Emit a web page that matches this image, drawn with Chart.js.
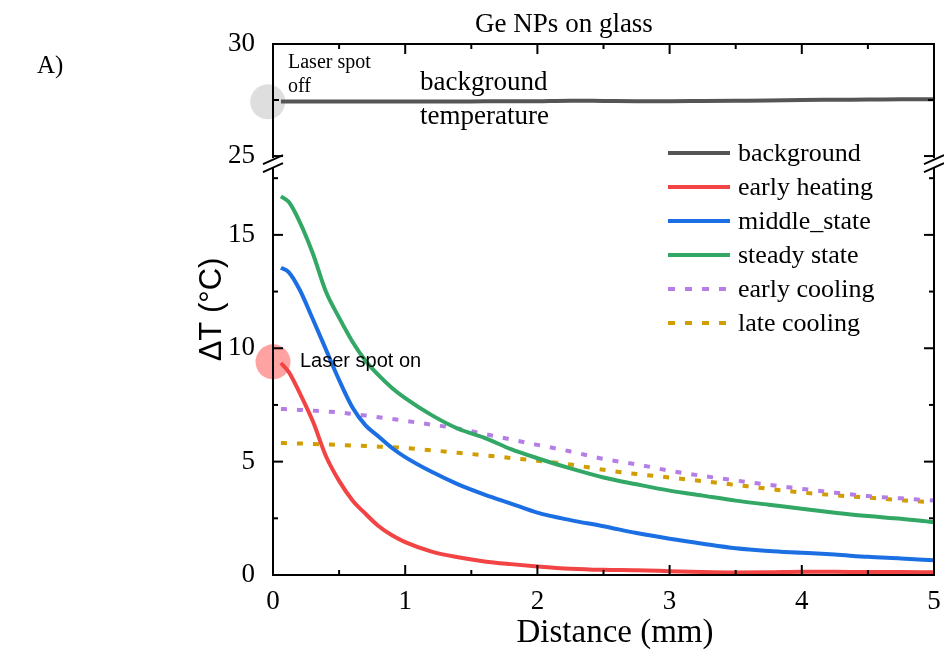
<!DOCTYPE html>
<html>
<head>
<meta charset="utf-8">
<title>Ge NPs on glass</title>
<script src="https://cdn.jsdelivr.net/npm/chart.js@4.4.1/dist/chart.umd.min.js"></script>
<style>
  html, body { margin: 0; padding: 0; background: #fff; }
  #wrap { width: 944px; height: 650px; }
</style>
</head>
<body>
<div id="wrap"><canvas id="temp-chart" width="944" height="650"></canvas></div>
<script>
// Distance from the laser spot (mm)
const distance = [0.06, 0.12, 0.2, 0.3, 0.4, 0.5, 0.6, 0.7, 0.8, 0.9, 1.0, 1.2, 1.4, 1.6, 1.8, 2.0,
  2.25, 2.5, 2.75, 3.0, 3.25, 3.5, 3.75, 4.0, 4.25, 4.5, 4.75, 5.0];

// Absolute background temperature (upper panel, °C)
const background = [27.43, 27.43, 27.43, 27.43, 27.43, 27.43, 27.43, 27.43, 27.43, 27.43, 27.43, 27.43, 27.43, 27.44, 27.44, 27.45,
  27.47, 27.46, 27.45, 27.45, 27.46, 27.47, 27.48, 27.5, 27.51, 27.52, 27.53, 27.54];

// Temperature rise (lower panel, °C)
const earlyHeating = [9.35, 8.95, 8.05, 6.8, 5.25, 4.15, 3.3, 2.7, 2.15, 1.75, 1.45, 1.03, 0.78, 0.6, 0.48, 0.38,
  0.28, 0.23, 0.21, 0.17, 0.13, 0.11, 0.12, 0.14, 0.14, 0.13, 0.13, 0.12];
const middleState = [13.55, 13.35, 12.6, 11.3, 9.95, 8.6, 7.4, 6.6, 6.1, 5.6, 5.2, 4.55, 4.0, 3.55, 3.15, 2.75,
  2.42, 2.15, 1.85, 1.6, 1.38, 1.18, 1.06, 0.98, 0.9, 0.8, 0.73, 0.65];
const steadyState = [16.7, 16.45, 15.6, 14.2, 12.5, 11.35, 10.3, 9.45, 8.8, 8.25, 7.8, 7.05, 6.45, 6.05, 5.55, 5.15,
  4.7, 4.3, 4.0, 3.72, 3.5, 3.28, 3.1, 2.92, 2.75, 2.6, 2.48, 2.33];
const earlyCooling = [7.32, 7.31, 7.28, 7.25, 7.21, 7.17, 7.1, 7.03, 6.96, 6.88, 6.8, 6.63, 6.46, 6.22, 5.98, 5.74,
  5.45, 5.12, 4.88, 4.6, 4.37, 4.17, 3.98, 3.8, 3.63, 3.48, 3.38, 3.28];
const lateCooling = [5.82, 5.81, 5.8, 5.78, 5.76, 5.74, 5.71, 5.69, 5.66, 5.64, 5.6, 5.5, 5.39, 5.28, 5.16, 5.04,
  4.87, 4.64, 4.45, 4.3, 4.14, 3.97, 3.8, 3.64, 3.52, 3.41, 3.3, 3.2];

// Laser spot markers
const spotOff = [{ x: -0.04, y: 27.42 }];
const spotOn = [{ x: 0, y: 9.4 }];

// Tick labels
const xTicks = [0, 1, 2, 3, 4, 5];
const topTicks = [25, 30];
const bottomTicks = [0, 5, 10, 15];

const SERIF = "'Liberation Serif', 'Times New Roman', serif";
const SANS = "'Liberation Sans', Arial, sans-serif";

const toPoints = (ys) => distance.map((x, i) => ({ x: x, y: ys[i] }));

const lineSet = (label, ys, color, axis, dashed) => ({
  label: label,
  data: toPoints(ys),
  yAxisID: axis,
  borderColor: color,
  backgroundColor: color,
  borderWidth: 4,
  borderDash: dashed ? [6, 10] : [],
  pointRadius: 0,
  cubicInterpolationMode: 'monotone',
  inLegend: true
});

const spotSet = (data, color, axis) => ({
  label: 'spot',
  data: data,
  yAxisID: axis,
  showLine: false,
  pointRadius: 17.5,
  pointHoverRadius: 17.5,
  pointBorderWidth: 0,
  pointBackgroundColor: color,
  clip: false,
  inLegend: false
});

// Draws frame, inward ticks, axis break, legend and annotations
const decorPlugin = {
  id: 'decor',
  afterDraw(chart) {
    const { ctx, chartArea: a, scales } = chart;
    const sx = scales.x, yt = scales.yTop, yb = scales.y;
    const breakTop = yt.getPixelForValue(25) + 2;
    const breakBot = yt.bottom + 5;

    ctx.save();
    ctx.strokeStyle = '#000';
    ctx.lineWidth = 2;
    ctx.lineCap = 'butt';

    const line = (x1, y1, x2, y2) => {
      ctx.beginPath();
      ctx.moveTo(x1, y1);
      ctx.lineTo(x2, y2);
      ctx.stroke();
    };

    // frame
    line(a.left - 1, a.top, a.right + 1, a.top);
    line(a.left - 1, a.bottom, a.right + 1, a.bottom);
    [a.left, a.right].forEach(px => {
      line(px, a.top, px, breakTop);
      line(px, breakBot, px, a.bottom + 1);
      // break marks
      line(px - 10, breakTop + 6, px + 10, breakTop - 3);
      line(px - 10, breakTop + 14, px + 10, breakTop + 5);
    });

    // x ticks, bottom axis and top border
    for (let v = 0; v <= 5.001; v += 0.5) {
      const px = sx.getPixelForValue(v);
      const len = Math.abs(v - Math.round(v)) < 0.01 ? 10 : 5;
      line(px, a.bottom, px, a.bottom - len);
      line(px, a.top, px, a.top + len);
    }
    // y ticks, both sides
    const yTicks = (scale, vals) => vals.forEach(([v, len]) => {
      const py = scale.getPixelForValue(v);
      line(a.left, py, a.left + len, py);
      line(a.right, py, a.right - len, py);
    });
    yTicks(yb, [[0, 10], [2.5, 5], [5, 10], [7.5, 5], [10, 10], [12.5, 5], [15, 10], [17.5, 5]]);
    yTicks(yt, [[27.5, 6], [25, 10]]);

    // legend
    ctx.font = '26px ' + SERIF;
    ctx.fillStyle = '#000';
    ctx.textBaseline = 'middle';
    ctx.textAlign = 'left';
    chart.data.datasets.filter(d => d.inLegend).forEach((d, i) => {
      const ly = 153 + i * 34;
      ctx.strokeStyle = d.borderColor;
      ctx.lineWidth = d.borderWidth;
      ctx.setLineDash(d.borderDash.length ? [7, 10] : []);
      line(668, ly, 730, ly);
      ctx.setLineDash([]);
      ctx.fillText(d.label, 738, ly + 1);
    });

    // annotations
    ctx.textBaseline = 'alphabetic';
    ctx.font = '20px ' + SERIF;
    ctx.fillText('Laser spot', 288, 68);
    ctx.fillText('off', 288, 92);
    ctx.font = '27px ' + SERIF;
    ctx.fillText('background', 420, 90);
    ctx.fillText('temperature', 420, 124);
    ctx.font = '20px ' + SANS;
    ctx.textBaseline = 'middle';
    ctx.fillText('Laser spot on', 300, yb.getPixelForValue(9.4));

    // title, panel label and x axis title
    ctx.textBaseline = 'alphabetic';
    ctx.textAlign = 'center';
    ctx.font = '27px ' + SERIF;
    ctx.fillText('Ge NPs on glass', 564, 32);
    ctx.font = '33px ' + SERIF;
    ctx.fillText('Distance (mm)', 615, 642);
    ctx.textAlign = 'left';
    ctx.font = '25px ' + SERIF;
    ctx.fillText('A)', 37, 73);

    // y axis title, centred on the whole frame
    ctx.translate(212, (a.top + a.bottom) / 2);
    ctx.rotate(-Math.PI / 2);
    ctx.textAlign = 'center';
    ctx.textBaseline = 'middle';
    ctx.font = '31px ' + SANS;
    ctx.fillText('\u0394T (\u00B0C)', 0, 0);
    ctx.restore();
  }
};

const tickFont = { family: SERIF, size: 27 };

new Chart(document.getElementById('temp-chart').getContext('2d'), {
  type: 'line',
  data: {
    datasets: [
      lineSet('background', background, '#555555', 'yTop', false),
      lineSet('early heating', earlyHeating, '#f24444', 'y', false),
      lineSet('middle_state', middleState, '#1b6fe2', 'y', false),
      lineSet('steady state', steadyState, '#33a866', 'y', false),
      lineSet('early cooling', earlyCooling, '#b47ee6', 'y', true),
      lineSet('late cooling', lateCooling, '#d29d00', 'y', true),
      spotSet(spotOff, 'rgba(200, 200, 200, 0.6)', 'yTop'),
      spotSet(spotOn, 'rgba(255, 70, 70, 0.5)', 'y')
    ]
  },
  options: {
    responsive: false,
    animation: false,
    devicePixelRatio: 1,
    layout: { autoPadding: false, padding: { left: 193, right: 10, top: 44, bottom: 0 } },
    plugins: {
      legend: { display: false },
      title: { display: false },
      tooltip: { enabled: false }
    },
    scales: {
      x: {
        type: 'linear',
        position: 'bottom',
        min: 0,
        max: 5,
        grid: { display: false },
        border: { display: false },
        ticks: { font: tickFont, color: '#000', padding: 3, maxRotation: 0 },
        afterBuildTicks: (s) => { s.ticks = xTicks.map(v => ({ value: v })); },
        afterFit: (s) => { s.height = 75; s.paddingLeft = 0; s.paddingRight = 0; }
      },
      yTop: {
        type: 'linear',
        position: 'left',
        stack: 'panels',
        stackWeight: 119,
        weight: 1,
        min: 24.69,
        max: 30,
        grid: { display: false },
        border: { display: false },
        ticks: { font: tickFont, color: '#000', padding: 10 },
        afterBuildTicks: (s) => { s.ticks = topTicks.map(v => ({ value: v })); },
        afterFit: (s) => { s.width = 80; }
      },
      y: {
        type: 'linear',
        position: 'left',
        stack: 'panels',
        stackWeight: 412,
        weight: 0,
        min: 0,
        max: 18.17,
        grid: { display: false },
        border: { display: false },
        ticks: { font: tickFont, color: '#000', padding: 10 },
        afterBuildTicks: (s) => { s.ticks = bottomTicks.map(v => ({ value: v })); },
        afterFit: (s) => { s.width = 80; }
      }
    }
  },
  plugins: [decorPlugin]
});
</script>
</body>
</html>
